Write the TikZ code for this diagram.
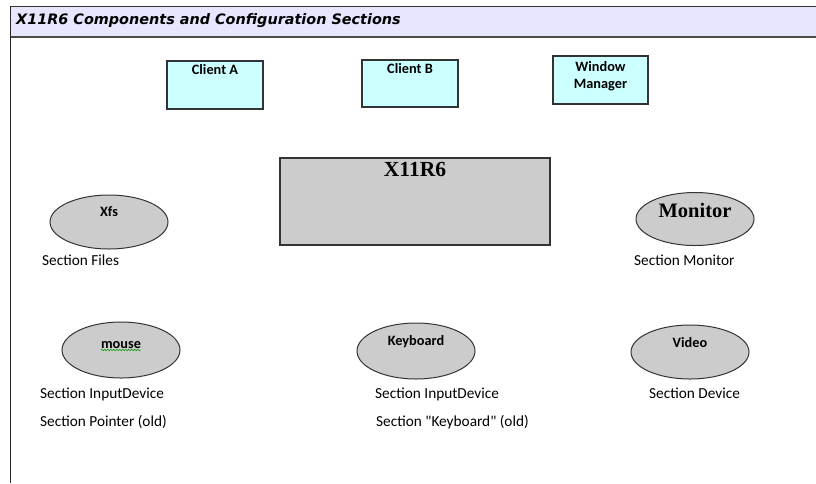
\documentclass[tikz,border=0pt]{standalone}
\usepackage{fontspec}
\setmainfont{Carlito}
\newfontfamily\plaintext{Carlito}
\newfontfamily\titlefont{DejaVu Sans}
\newfontfamily\bigserif{Liberation Serif}
\usetikzlibrary{shapes.geometric,decorations.pathmorphing}
\definecolor{headfill}{HTML}{E6E6FF}
\definecolor{clientfill}{HTML}{CCFFFF}
\definecolor{partfill}{HTML}{CCCCCC}
\definecolor{edgegray}{HTML}{333333}
\begin{document}
\begin{tikzpicture}[x=1pt,y=-1pt,
		clientbox/.style={draw=edgegray, line width=1.1pt, fill=clientfill, minimum width=96pt, minimum height=48pt},
		corebox/.style={draw=edgegray, line width=1.1pt, fill=partfill, minimum width=270pt, minimum height=87pt},
		part/.style={ellipse, draw=edgegray, line width=1pt, fill=partfill, minimum width=118pt, minimum height=54pt},
		boxtext/.style={anchor=mid, inner sep=0pt, font=\fontsize{14.3}{17}\selectfont\bfseries, align=center},
		serifname/.style={anchor=mid, inner sep=0pt, font=\fontsize{21.5}{24}\selectfont\bigserif\bfseries},
		section/.style={anchor=mid west, inner sep=0pt, font=\fontsize{15.3}{18}\selectfont\plaintext}
	]
	\useasboundingbox (0,0) rectangle (816,483);
	\fill[headfill] (10,6) rectangle (816,37);
	\draw[edgegray, line width=1pt] (10,6) -- (816,6);
	\draw[black!70, line width=2pt] (10,37) -- (816,37);
	\draw[black!85, line width=1pt] (10,6) -- (10,483);
	\node[anchor=mid west, inner sep=0pt, font=\fontsize{14.4}{17}\selectfont\titlefont\bfseries\itshape] (title) at (16,22) {X11R6 Components and Configuration Sections};

	\node[clientbox] (clienta) at (215,85) {};
	\node[boxtext] (clientatext) at (215,72) {Client A};
	\node[clientbox, minimum height=47pt] (clientb) at (410,83.5) {};
	\node[boxtext] (clientbtext) at (410,71) {Client B};
	\node[clientbox, minimum width=95pt] (wm) at (600.5,80) {};
	\node[boxtext, anchor=center] (wmtext) at (600.5,76) {Window\\Manager};

	\node[corebox] (x11) at (415,201.5) {};
	\node[serifname] (x11text) at (415,174) {X11R6};

	\node[part] (xfs) at (109,222) {};
	\node[boxtext] (xfstext) at (109,214) {Xfs};
	\node[section] (xfssec) at (42,263) {Section Files};

	\node[part, minimum height=53pt] (monitor) at (695,219) {};
	\node[serifname, font=\fontsize{20.5}{24}\selectfont\bigserif\bfseries] (monitortext) at (695,215) {Monitor};
	\node[section] (monitorsec) at (634,263) {Section Monitor};

	\node[part, minimum height=56pt] (mouse) at (121,350) {};
	\node[boxtext, anchor=base] (mousetext) at (121,348) {mouse};
	\draw[green!60!black, line width=0.5pt, decorate, decoration={snake, amplitude=0.7pt, segment length=3pt}] ([yshift=-2pt]mousetext.base west) -- ([yshift=-2pt]mousetext.base east);
	\node[section] (mousesec) at (40,396) {Section InputDevice};
	\node[section] (mouseold) at (40,424) {Section Pointer (old)};

	\node[part, minimum height=56pt] (keyboard) at (416,351) {};
	\node[boxtext] (keyboardtext) at (416,343) {Keyboard};
	\node[section] (keyboardsec) at (375,396) {Section InputDevice};
	\node[section] (keyboardold) at (376,424) {Section "Keyboard" (old)};

	\node[part] (video) at (690,352) {};
	\node[boxtext] (videotext) at (690,345) {Video};
	\node[section] (videosec) at (649,396) {Section Device};
\end{tikzpicture}
\end{document}
